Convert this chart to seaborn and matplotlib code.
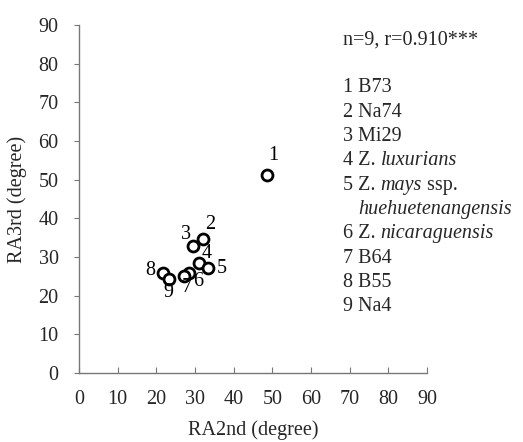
import matplotlib
matplotlib.use("Agg")
import matplotlib.pyplot as plt
import seaborn as sns
import pandas as pd
from matplotlib.transforms import offset_copy

ids = ["1", "2", "3", "4", "5", "6", "7", "8", "9"]
ra2nd = [48.5, 32.0, 29.4, 31.1, 33.4, 28.5, 27.2, 21.6, 23.3]
ra3rd = [51.3, 34.7, 32.8, 28.5, 27.2, 25.8, 25.1, 25.8, 24.3]
label_offsets = {"1": (5, 13.5), "2": (5.5, 10), "3": (-4.5, 8.5), "4": (5, 7),
                 "5": (10, -0.5), "6": (6.5, -6), "7": (2, -8.5), "8": (-8.5, 2), "9": (-0.5, -10)}
# legend entries: list of (text, italic) segments
legend_lines = [
    [("1 B73", False)],
    [("2 Na74", False)],
    [("3 Mi29", False)],
    [("4 Z. ", False), ("luxurians", True)],
    [("5 Z. ", False), ("mays", True), (" ssp.", False)],
    [("   ", False), ("huehuetenangensis", True)],
    [("6 Z. ", False), ("nicaraguensis", True)],
    [("7 B64", False)],
    [("8 B55", False)],
    [("9 Na4", False)],
]
stat_text = "n=9, r=0.910***"

sns.set_style("white")
plt.rcParams["font.family"] = ["Liberation Serif", "DejaVu Serif"]
FS = 14.5

df = pd.DataFrame({"id": ids, "RA2nd": ra2nd, "RA3rd": ra3rd})

fig = plt.figure(figsize=(5.23, 4.42), dpi=100)
ax = fig.add_axes([79/523, (442-373)/442, (427-79)/523, (373-25)/442])
sns.scatterplot(data=df, x="RA2nd", y="RA3rd", ax=ax, s=62, marker="o",
                facecolor="white", edgecolor="black", linewidth=2, zorder=3, clip_on=False)

for i, xv, yv in zip(ids, ra2nd, ra3rd):
    dx, dy = label_offsets[i]
    ax.annotate(i, (xv, yv), xytext=(dx, dy), textcoords="offset points",
                ha="center", va="center", fontsize=FS, color="black")

ax.set_xlim(0, 90)
ax.set_ylim(0, 90)
ax.set_xticks(range(0, 91, 10))
ax.set_yticks(range(0, 91, 10))
ax.tick_params(axis="x", direction="in", length=4, color="#777777", labelsize=FS, pad=12, bottom=True)
ax.tick_params(axis="y", direction="out", length=3.6, color="#777777", labelsize=FS, pad=11, left=True)
for side in ["top", "right"]:
    ax.spines[side].set_visible(False)
for side in ["left", "bottom"]:
    ax.spines[side].set_color("#777777")
    ax.spines[side].set_linewidth(1)
ax.set_xlabel("RA2nd (degree)", fontsize=FS, labelpad=8)
ax.set_ylabel("RA3rd (degree)", fontsize=FS, labelpad=8)

fig.text(343/523, 1 - 40/442, stat_text, fontsize=FS, va="center", ha="left")
fig.canvas.draw()
renderer = fig.canvas.get_renderer()
for k, segs in enumerate(legend_lines):
    x0 = 343/523
    y0 = 1 - (88 + k*24.3)/442
    trans = fig.transFigure
    for txt, it in segs:
        t = fig.text(x0, y0, txt, fontsize=FS, va="center", ha="left",
                     fontstyle="italic" if it else "normal", transform=trans)
        bb = t.get_window_extent(renderer=renderer)
        trans = offset_copy(t.get_transform(), fig=fig, x=bb.width, units="dots")
        x0, y0 = x0, y0
        t_prev = t
    # nothing else

fig.savefig("out.png", dpi=100)
